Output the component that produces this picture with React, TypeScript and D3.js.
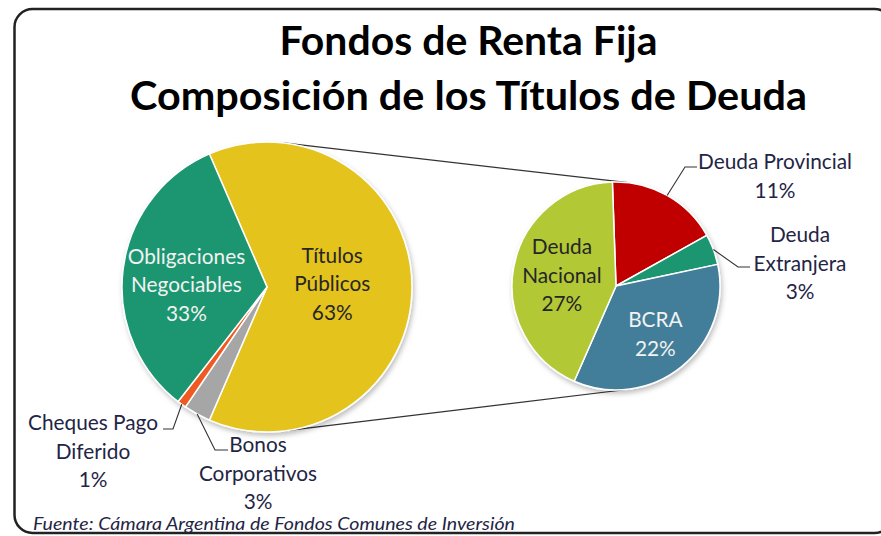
import React from 'react';
import * as d3 from 'd3';

// chart data
const titleLines = ['Fondos de Renta Fija', 'Composición de los Títulos de Deuda'];
const sourceText = 'Fuente:  Cámara Argentina de Fondos Comunes de Inversión';

const mainCategories = ['Títulos Públicos', 'Bonos Corporativos', 'Cheques Pago Diferido', 'Obligaciones Negociables'];
const mainValues = [63, 3, 1, 33];
const mainColors = ['#E3C31F', '#A6A6A6', '#EE5A24', '#1A9670'];

const subCategories = ['Deuda Provincial', 'Deuda Extranjera', 'BCRA', 'Deuda Nacional'];
const subValues = [11, 3, 22, 27];
const subColors = ['#C00000', '#1A9670', '#437E99', '#B2C835'];

const W = 881;
const H = 536;
const FONT = 'Lato, "Open Sans", sans-serif';
const DARK = '#262626';
const NAVY = '#1F2545';

// pies
const main = { cx: 267, cy: 287, r: 145 };
const sub = { cx: 616, cy: 286, r: 104 };
const lineH = 28.5;

// label layout (relative to pie centre)
type Lbl = {
  lines: string[];
  fill: string;
  frac?: number;
  nudge?: [number, number];
  elbow?: [number, number];
  end?: [number, number];
  text?: [number, number];
};
const labelLayout: Record<string, Lbl> = {
  'Títulos Públicos': { lines: ['Títulos', 'Públicos'], fill: DARK, frac: 0.45, nudge: [0, -3] },
  'Obligaciones Negociables': { lines: ['Obligaciones', 'Negociables'], fill: '#F2F2F2', frac: 0.56, nudge: [0, 8] },
  'Cheques Pago Diferido': { lines: ['Cheques Pago', 'Diferido'], fill: NAVY, elbow: [-94, 142], end: [-104, 142], text: [-174, 136] },
  'Bonos Corporativos': { lines: ['Bonos', 'Corporativos'], fill: NAVY, elbow: [-52, 163], end: [-39, 163], text: [-9, 158] },
  'Deuda Provincial': { lines: ['Deuda Provincial'], fill: NAVY, elbow: [69, -119], end: [81, -119], text: [159, -124] },
  'Deuda Extranjera': { lines: ['Deuda', 'Extranjera'], fill: NAVY, elbow: [122, -19], end: [134, -19], text: [184, -51] },
  'BCRA': { lines: ['BCRA'], fill: '#F2F2F2', frac: 0.6 },
  'Deuda Nacional': { lines: ['Deuda', 'Nacional'], fill: DARK, frac: 0.53 },
};

type Slice = d3.PieArcDatum<number> & { name: string; color: string };

function buildSlices(names: string[], values: number[], colors: string[], start: number): Slice[] {
  const pie = d3.pie<number>().sort(null).value((d) => d).startAngle(start).endAngle(start + 2 * Math.PI);
  return pie(values).map((p, i) => ({ ...p, name: names[i], color: colors[i] }));
}

// external common tangents of the two circles
function tangents() {
  const dx = sub.cx - main.cx;
  const dy = sub.cy - main.cy;
  const d = Math.hypot(dx, dy);
  const ux = dx / d;
  const uy = dy / d;
  const s = (main.r - sub.r) / d;
  const c = Math.sqrt(1 - s * s);
  return [-1, 1].map((sign) => {
    const nx = s * ux - sign * c * uy;
    const ny = s * uy + sign * c * ux;
    return [
      [main.cx + main.r * nx, main.cy + main.r * ny],
      [sub.cx + sub.r * nx, sub.cy + sub.r * ny],
    ];
  });
}

const PieGroup = ({ slices, geo }: { slices: Slice[]; geo: typeof main }) => {
  const arc = d3.arc<Slice>().innerRadius(0).outerRadius(geo.r);
  return (
    <g transform={`translate(${geo.cx},${geo.cy})`}>
      <g filter="url(#shadow)">
        {slices.map((s) => (
          <path key={s.name} d={arc(s) || ''} fill={s.color} stroke="#fff" strokeWidth={1.5} />
        ))}
      </g>
      {slices.map((s) => {
        const lay = labelLayout[s.name];
        const pct = `${Math.round(s.value)}%`;
        const lines = [...lay.lines, pct];
        let cx = 0;
        let cy = 0;
        let leader: string | null = null;
        if (lay.frac !== undefined) {
          const lr = geo.r * lay.frac;
          const [x, y] = d3.arc<Slice>().innerRadius(lr).outerRadius(lr).centroid(s);
          cx = x + (lay.nudge ? lay.nudge[0] : 0);
          cy = y + (lay.nudge ? lay.nudge[1] : 0);
        } else if (lay.text && lay.elbow && lay.end) {
          const mid = (s.startAngle + s.endAngle) / 2;
          const ex = geo.r * Math.sin(mid);
          const ey = -geo.r * Math.cos(mid);
          leader = d3.line()([[ex, ey], lay.elbow, lay.end]) || '';
          cx = lay.text[0];
          cy = lay.text[1] + ((lines.length - 1) / 2) * lineH;
        }
        return (
          <g key={`l-${s.name}`}>
            {leader && <path d={leader} fill="none" stroke="#333" strokeWidth={1.1} />}
            <text textAnchor="middle" fontFamily={FONT} fontSize={20.8} fill={lay.fill}>
              {lines.map((t, i) => (
                <tspan key={i} x={cx} y={cy + (i - (lines.length - 1) / 2) * lineH} dy="0.35em">
                  {t}
                </tspan>
              ))}
            </text>
          </g>
        );
      })}
    </g>
  );
};

export default function App() {
  const mainSlices = buildSlices(mainCategories, mainValues, mainColors, Math.PI / 2 - (mainValues[0] / d3.sum(mainValues)) * Math.PI);
  const subSlices = buildSlices(subCategories, subValues, subColors, (-2 * Math.PI) / 180);
  const conn = tangents();

  return (
    <svg width={W} height={H} style={{ position: 'absolute', left: 0, top: 0, background: '#fff' }}>
      <defs>
        <filter id="shadow" x="-20%" y="-20%" width="140%" height="140%">
          <feDropShadow dx="1.5" dy="3" stdDeviation="2.5" floodColor="#000" floodOpacity="0.25" />
        </filter>
      </defs>
      <rect x={14.5} y={9} width={878} height={524} rx={18} fill="#fff" stroke="#222" strokeWidth={2.5} />

      {titleLines.map((t, i) => (
        <text
          key={t}
          x={W / 2 + 28}
          y={55 + i * 55}
          textAnchor="middle"
          fontFamily={FONT}
          fontWeight={700}
          fontSize={40}
          fill="#000"
          textLength={i === 0 ? 378 : 677}
          lengthAdjust="spacingAndGlyphs"
        >
          {t}
        </text>
      ))}

      {conn.map(([a, b], i) => (
        <line key={i} x1={a[0]} y1={a[1]} x2={b[0]} y2={b[1]} stroke="#333" strokeWidth={1.2} />
      ))}

      <PieGroup slices={mainSlices} geo={main} />
      <PieGroup slices={subSlices} geo={sub} />

      <text
        x={33}
        y={530}
        fontFamily={FONT}
        fontStyle="italic"
        fontSize={17.5}
        fill={NAVY}
        textLength={482}
        lengthAdjust="spacingAndGlyphs"
      >
        {sourceText}
      </text>
    </svg>
  );
}
